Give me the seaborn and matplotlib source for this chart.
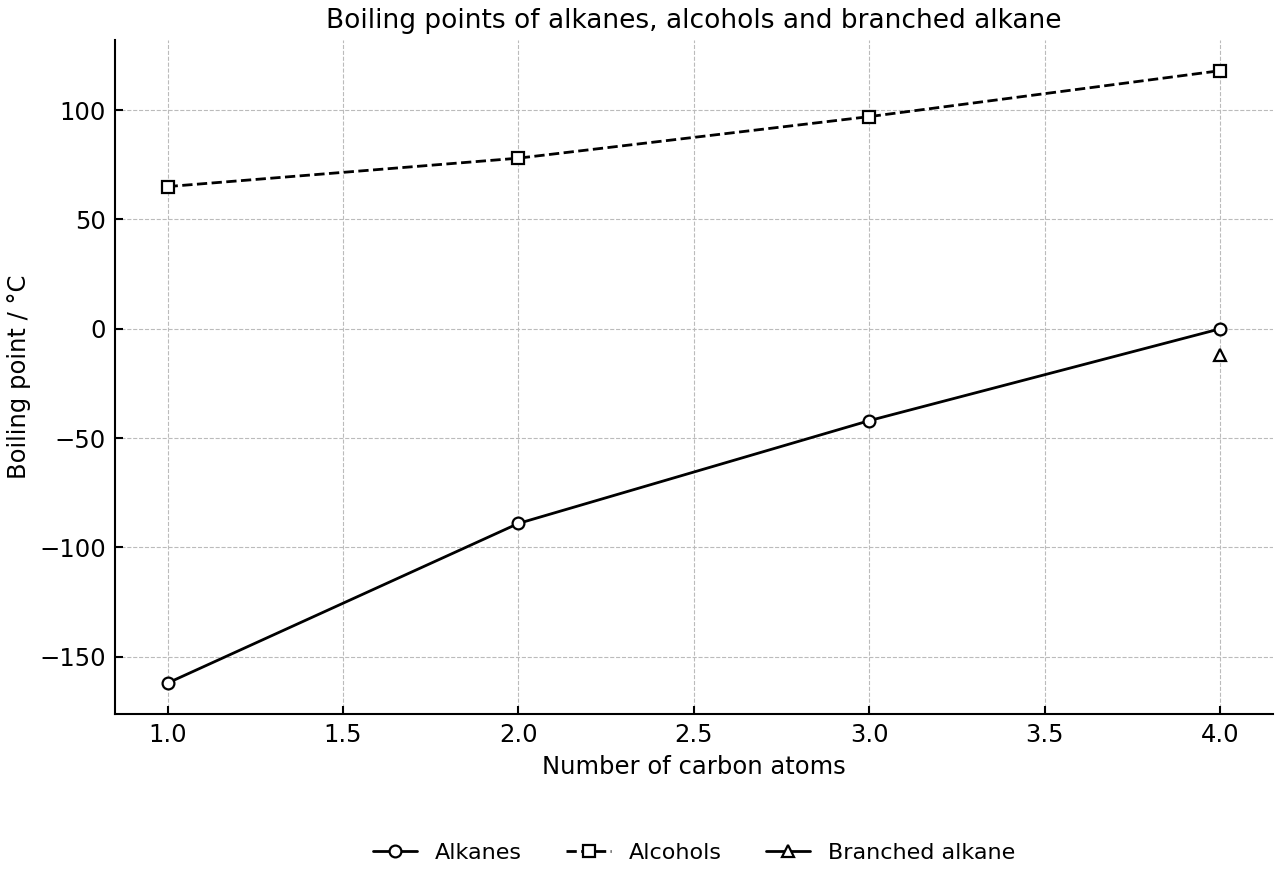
import matplotlib
matplotlib.use("Agg")
import matplotlib.pyplot as plt
import seaborn as sns
import pandas as pd

carbons = [1, 2, 3, 4]
alkanes = [-162, -89, -42, 0]
alcohols = [65, 78, 97, 118]
branched_x = [4]
branched = [-12]

sns.set_theme(style="ticks")
plt.rcParams['font.family'] = ['DejaVu Sans']

fig = plt.figure(figsize=(12.8, 8.8), dpi=100)
ax = fig.add_axes([0.0898, 0.189, 0.9047, 0.7655])

df_alk = pd.DataFrame({"x": carbons, "y": alkanes})
df_alc = pd.DataFrame({"x": carbons, "y": alcohols})
df_br = pd.DataFrame({"x": branched_x, "y": branched})

mk = dict(markersize=8.5, markerfacecolor="white", markeredgecolor="black", markeredgewidth=1.6)
sns.lineplot(data=df_alk, x="x", y="y", ax=ax, color="black", linewidth=2, marker="o", label="Alkanes", **mk)
sns.lineplot(data=df_alc, x="x", y="y", ax=ax, color="black", linewidth=2, marker="s", linestyle="--", label="Alcohols", **mk)
sns.lineplot(data=df_br, x="x", y="y", ax=ax, color="black", linewidth=2, marker="^", label="Branched alkane", **mk)

ax.set_xlim(0.85, 4.15)
ax.set_ylim(-176, 132)
ax.grid(True, linestyle="--", color="#bbbbbb", linewidth=0.8)
ax.set_axisbelow(True)
sns.despine(ax=ax)
for s in ["left", "bottom"]:
    ax.spines[s].set_color("black")
    ax.spines[s].set_linewidth(1.5)
ax.tick_params(direction="in", length=6, width=1.5, labelsize=17.5, colors="black", pad=6.5)
ax.set_xlabel("Number of carbon atoms", fontsize=17.5, color="black", labelpad=6)
ax.set_ylabel("Boiling point / °C", fontsize=17.5, color="black", labelpad=6)
ax.set_title("Boiling points of alkanes, alcohols and branched alkane", fontsize=19, color="black", pad=9)
ax.get_legend().remove()
handles, labels = ax.get_legend_handles_labels()
fig.legend(handles, labels, loc="center", bbox_to_anchor=(0.5422, 0.031), ncol=3, frameon=False,
           fontsize=16, columnspacing=2.0, labelcolor="black")

fig.savefig("out.png", dpi=100)
